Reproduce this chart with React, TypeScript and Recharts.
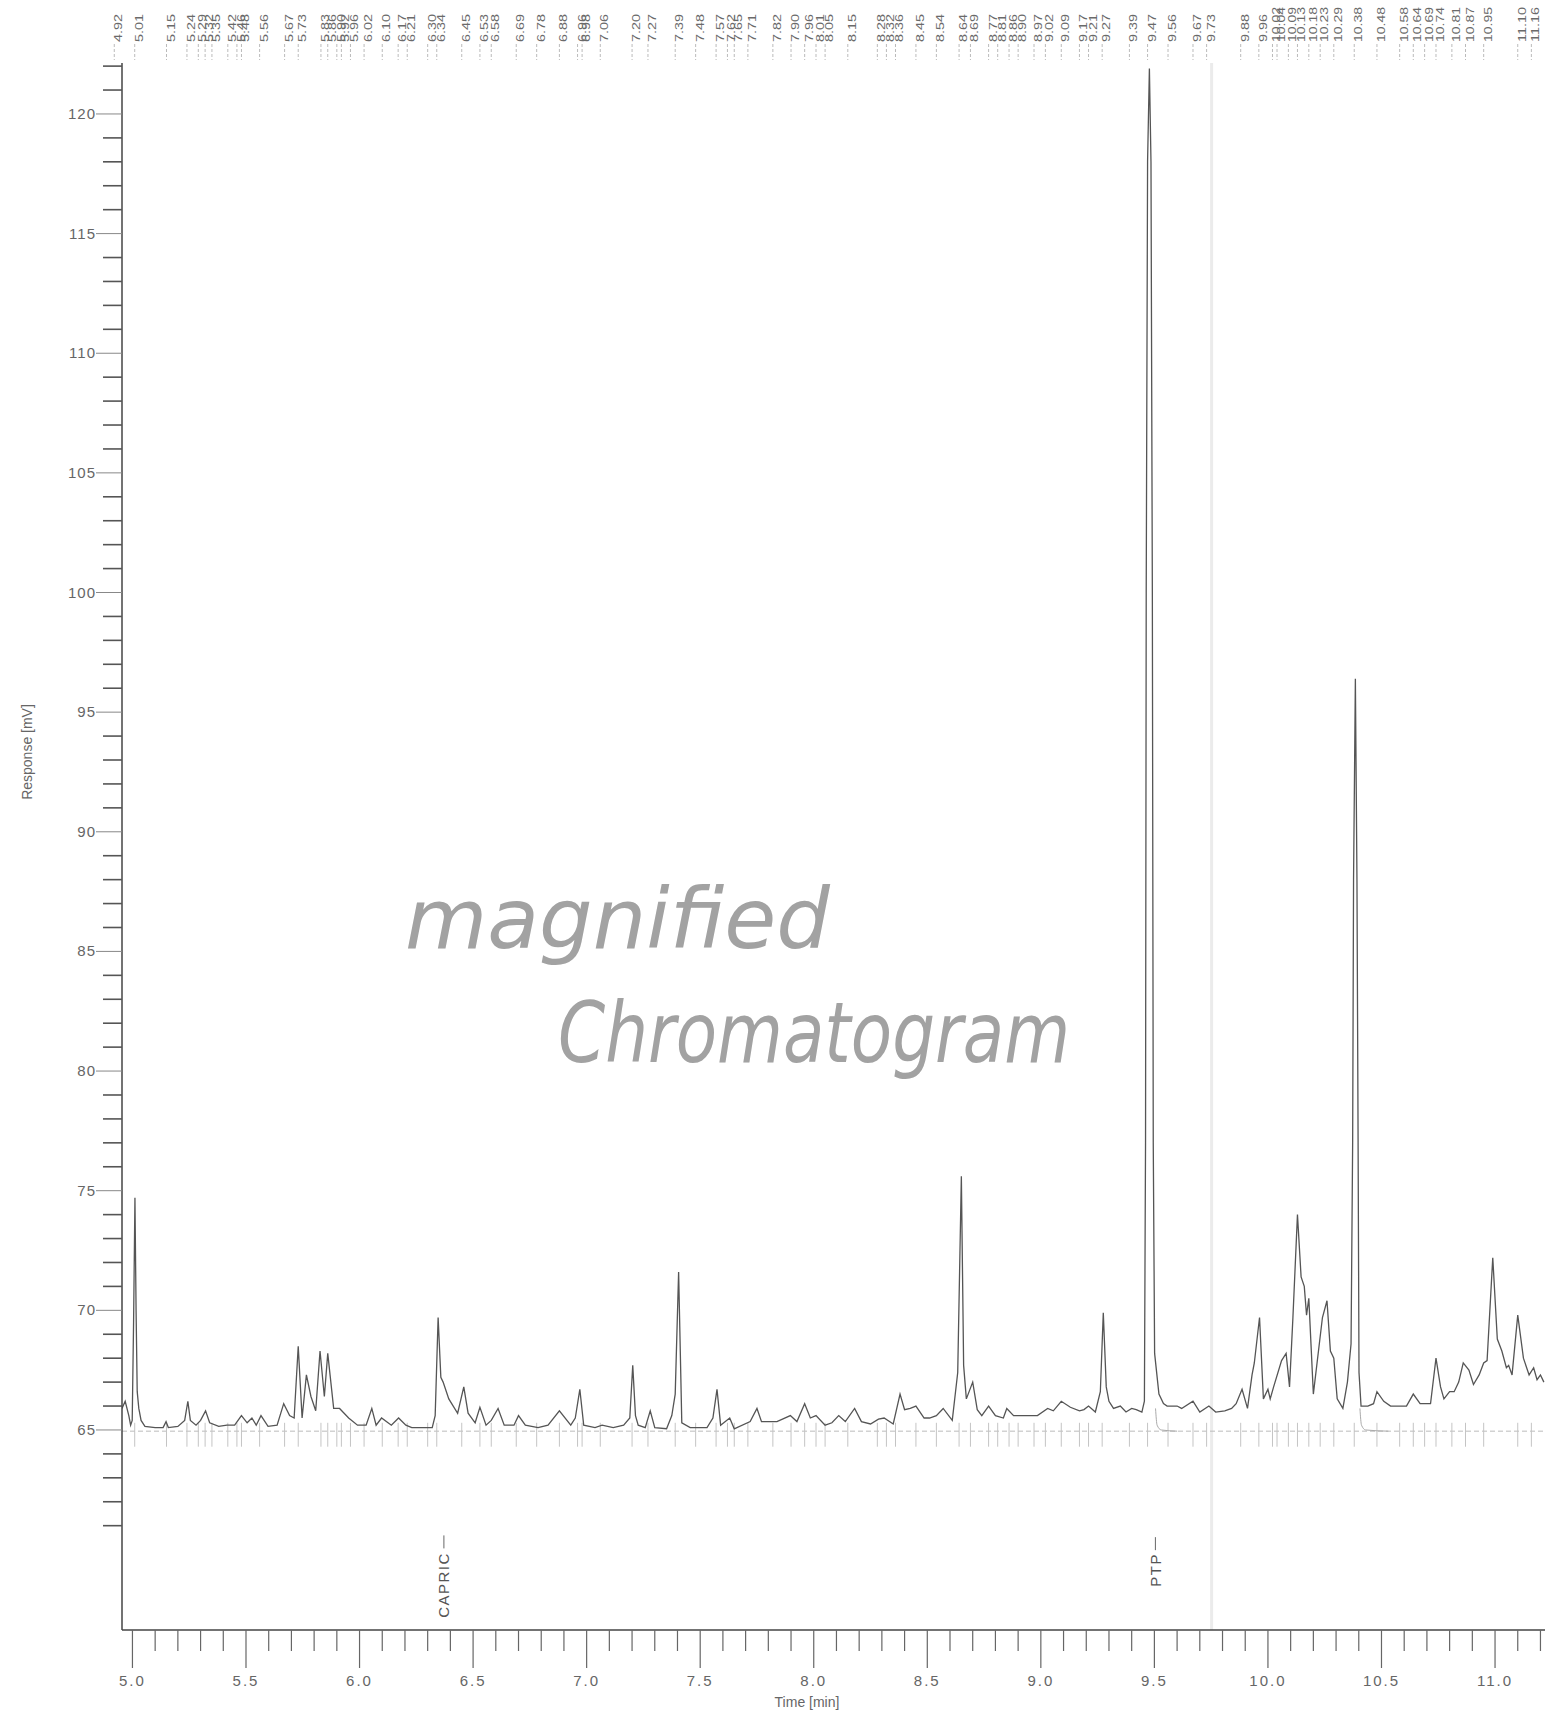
import React from 'react';
import { LineChart, Line, XAxis, YAxis, ReferenceLine, ReferenceDot } from 'recharts';

// detector trace (time in min, response in mV)
const traceTime = [
  4.954, 4.968, 4.984, 4.992, 4.999, 5.005, 5.011, 5.016, 5.021, 5.028, 5.038, 5.055, 5.1, 5.135, 5.148, 5.158,
  5.2, 5.23, 5.244, 5.255, 5.28, 5.3, 5.322, 5.34, 5.38, 5.416, 5.45, 5.48, 5.505, 5.526, 5.545, 5.566,
  5.597, 5.637, 5.666, 5.692, 5.712, 5.73, 5.747, 5.766, 5.786, 5.807, 5.826, 5.845, 5.86, 5.886, 5.912, 5.952,
  5.991, 6.029, 6.054, 6.073, 6.097, 6.14, 6.172, 6.204, 6.23, 6.32, 6.333, 6.346, 6.358, 6.368, 6.393, 6.432,
  6.459, 6.478, 6.509, 6.53, 6.557, 6.58, 6.61, 6.637, 6.68, 6.7, 6.73, 6.786, 6.83, 6.88, 6.93, 6.95,
  6.97, 6.987, 7.037, 7.068, 7.117, 7.163, 7.19, 7.203, 7.215, 7.227, 7.258, 7.28, 7.3, 7.352, 7.375, 7.39,
  7.405, 7.419, 7.456, 7.53, 7.556, 7.574, 7.59, 7.63, 7.65, 7.72, 7.75, 7.77, 7.838, 7.897, 7.926, 7.96,
  7.985, 8.01, 8.05, 8.08, 8.11, 8.139, 8.18, 8.21, 8.25, 8.285, 8.31, 8.35, 8.38, 8.4, 8.425, 8.45,
  8.486, 8.51, 8.54, 8.57, 8.61, 8.634, 8.65, 8.66, 8.672, 8.7, 8.72, 8.74, 8.77, 8.8, 8.835, 8.85,
  8.88, 8.94, 8.985, 9.03, 9.055, 9.09, 9.13, 9.17, 9.19, 9.21, 9.24, 9.262, 9.275, 9.288, 9.3, 9.32,
  9.35, 9.375, 9.4, 9.42, 9.445, 9.456, 9.461, 9.464, 9.47, 9.478, 9.485, 9.491, 9.495, 9.501, 9.52, 9.54,
  9.556, 9.6, 9.62, 9.67, 9.7, 9.74, 9.77, 9.81, 9.84, 9.86, 9.886, 9.91, 9.93, 9.94, 9.963, 9.98,
  10.0, 10.01, 10.025, 10.06, 10.08, 10.095, 10.11, 10.13, 10.146, 10.16, 10.17, 10.18, 10.2, 10.24, 10.26, 10.275,
  10.29, 10.305, 10.33, 10.35, 10.366, 10.373, 10.377, 10.385, 10.392, 10.397, 10.401, 10.41, 10.44, 10.465, 10.48, 10.51,
  10.54, 10.58, 10.61, 10.64, 10.67, 10.716, 10.74, 10.76, 10.775, 10.8, 10.82, 10.84, 10.86, 10.885, 10.905, 10.93,
  10.95, 10.965, 10.99, 11.01, 11.03, 11.05, 11.06, 11.075, 11.1, 11.125, 11.15, 11.17, 11.185, 11.2, 11.215,
];
const traceResponse = [
  65.9, 66.2, 65.6, 65.2, 65.4, 69.5, 74.7, 70.0, 66.6, 65.9, 65.4, 65.15, 65.1, 65.1, 65.35, 65.1,
  65.15, 65.4, 66.2, 65.4, 65.2, 65.4, 65.8, 65.3, 65.15, 65.2, 65.2, 65.6, 65.3, 65.5, 65.2, 65.6,
  65.15, 65.2, 66.1, 65.6, 65.5, 68.5, 65.5, 67.3, 66.4, 65.8, 68.3, 66.4, 68.2, 65.9, 65.9, 65.5,
  65.2, 65.2, 65.9, 65.2, 65.5, 65.2, 65.5, 65.2, 65.1, 65.1, 65.6, 69.7, 67.2, 67.0, 66.3, 65.7,
  66.8, 65.7, 65.3, 65.95, 65.2, 65.4, 65.9, 65.2, 65.2, 65.6, 65.2, 65.1, 65.2, 65.8, 65.2, 65.5,
  66.7, 65.2, 65.1, 65.2, 65.1, 65.2, 65.5, 67.7, 65.6, 65.2, 65.1, 65.8, 65.1, 65.05, 65.6, 66.5,
  71.6, 65.3, 65.1, 65.1, 65.5, 66.7, 65.2, 65.5, 65.05, 65.35, 65.9, 65.35, 65.35, 65.6, 65.35, 66.1,
  65.5, 65.6, 65.2, 65.3, 65.6, 65.35, 65.9, 65.35, 65.25, 65.45, 65.5, 65.25, 66.5, 65.85, 65.9, 66.0,
  65.5, 65.5, 65.6, 65.9, 65.4, 67.4, 75.6, 67.7, 66.3, 67.0, 65.85, 65.6, 66.0, 65.6, 65.5, 65.9,
  65.6, 65.6, 65.6, 65.9, 65.8, 66.2, 65.95, 65.8, 65.85, 66.0, 65.75, 66.6, 69.9, 66.8, 66.2, 65.9,
  66.0, 65.75, 65.9, 65.85, 65.75, 66.2, 77.0, 100.0, 118.0, 121.9, 118.0, 100.0, 77.0, 68.2, 66.5, 66.1,
  66.0, 66.0, 65.9, 66.2, 65.75, 66.0, 65.75, 65.8, 65.9, 66.1, 66.7, 65.9, 67.3, 67.8, 69.7, 66.3,
  66.7, 66.3, 66.8, 67.9, 68.2, 66.8, 69.7, 74.0, 71.4, 71.0, 69.8, 70.5, 66.5, 69.7, 70.4, 68.3,
  68.0, 66.3, 65.9, 67.0, 68.6, 77.0, 88.0, 96.4, 88.0, 77.0, 67.4, 66.0, 66.0, 66.1, 66.6, 66.2,
  66.0, 66.0, 66.0, 66.5, 66.1, 66.1, 68.0, 66.8, 66.3, 66.6, 66.6, 67.0, 67.8, 67.5, 66.9, 67.3,
  67.8, 67.9, 72.2, 68.8, 68.3, 67.6, 67.7, 67.3, 69.8, 68.0, 67.3, 67.6, 67.1, 67.3, 67.0,
];

// integrator's drop-to-baseline tails after the two big peaks
const tailTime = [9.505, 9.512, 9.53, 9.6, null, 10.405, 10.412, 10.43, 10.53];
const tailResponse = [65.9, 65.2, 65.0, 64.95, null, 65.9, 65.2, 65.0, 64.95];

// retention times printed along the top
const peakLabels = [
  '4.92', '5.01', '5.15', '5.24', '5.29', '5.32', '5.35', '5.42', '5.46', '5.48', '5.56', '5.67', '5.73', '5.83',
  '5.86', '5.90', '5.92', '5.96', '6.02', '6.10', '6.17', '6.21', '6.30', '6.34', '6.45', '6.53', '6.58', '6.69',
  '6.78', '6.88', '6.96', '6.98', '7.06', '7.20', '7.27', '7.39', '7.48', '7.57', '7.62', '7.65', '7.71', '7.82',
  '7.90', '7.96', '8.01', '8.05', '8.15', '8.28', '8.32', '8.36', '8.45', '8.54', '8.64', '8.69', '8.77', '8.81',
  '8.86', '8.90', '8.97', '9.02', '9.09', '9.17', '9.21', '9.27', '9.39', '9.47', '9.56', '9.67', '9.73', '9.88',
  '9.96', '10.02', '10.04', '10.09', '10.13', '10.18', '10.23', '10.29', '10.38', '10.48', '10.58', '10.64',
  '10.69', '10.74', '10.81', '10.87', '10.95', '11.10', '11.16',
];
const peakTimes = peakLabels.map(Number);

const timeTicks = [
  5.0, 5.1, 5.2, 5.3, 5.4, 5.5, 5.6, 5.7, 5.8, 5.9, 6.0, 6.1, 6.2, 6.3, 6.4, 6.5, 6.6, 6.7, 6.8, 6.9,
  7.0, 7.1, 7.2, 7.3, 7.4, 7.5, 7.6, 7.7, 7.8, 7.9, 8.0, 8.1, 8.2, 8.3, 8.4, 8.5, 8.6, 8.7, 8.8, 8.9,
  9.0, 9.1, 9.2, 9.3, 9.4, 9.5, 9.6, 9.7, 9.8, 9.9, 10.0, 10.1, 10.2, 10.3, 10.4, 10.5, 10.6, 10.7, 10.8,
  10.9, 11.0, 11.1, 11.2,
];
const responseTicks = [
  61, 62, 63, 64, 65, 66, 67, 68, 69, 70, 71, 72, 73, 74, 75, 76, 77, 78, 79, 80, 81, 82, 83, 84, 85,
  86, 87, 88, 89, 90, 91, 92, 93, 94, 95, 96, 97, 98, 99, 100, 101, 102, 103, 104, 105, 106, 107, 108,
  109, 110, 111, 112, 113, 114, 115, 116, 117, 118, 119, 120, 121, 122,
];

const compounds = [
  { name: 'CAPRIC', time: 6.345, at: 58.52 },
  { name: 'PTP', time: 9.478, at: 59.15 },
];

const data = traceTime.map((t, i) => ({ t, r: traceResponse[i] }));
const tailData = tailTime.map((t, i) => ({ t, b: tailResponse[i] }));

const ink = '#555';
const font = '"Liberation Sans", Arial, sans-serif';
const AXIS_Y = 1630;

const TimeTick = (props: any) => {
  const { x, payload } = props;
  const v = payload.value;
  const major = Math.abs(v * 2 - Math.round(v * 2)) < 0.001;
  return (
    <g>
      <line x1={x} x2={x} y1={AXIS_Y} y2={AXIS_Y + (major ? 38 : 21)} stroke="#666" strokeWidth={1.2} />
      {major && (
        <text x={x} y={AXIS_Y + 56} textAnchor="middle" fontSize={15} letterSpacing={2} fill="#666" fontFamily={font}>
          {v.toFixed(1)}
        </text>
      )}
    </g>
  );
};

const ResponseTick = (props: any) => {
  const { x, y, payload } = props;
  const v = payload.value;
  const major = v % 5 === 0;
  return (
    <g>
      {major ? (
        <line x1={x - 26} x2={x} y1={y} y2={y} stroke="#888" strokeWidth={1} />
      ) : (
        <line x1={x - 19} x2={x} y1={y} y2={y} stroke="#555" strokeWidth={1.6} />
      )}
      {major && (
        <text x={x - 26} y={y + 5} textAnchor="end" fontSize={15} letterSpacing={1} fill="#666" fontFamily={font}>
          {v}
        </text>
      )}
    </g>
  );
};

const PeakTick = (props: any) => {
  const { x, payload, index } = props;
  const label = peakLabels[index] ?? String(payload.value);
  const tx = x + 4;
  return (
    <g>
      <line x1={x} x2={x} y1={44} y2={60} stroke="#bbb" strokeWidth={1} strokeDasharray="3 2" />
      <text
        x={tx}
        y={42}
        transform={`rotate(-90 ${tx} 42)`}
        fontSize={10.5}
        fill="#6a6a6a"
        fontFamily={font}
        textLength={label.length * 7}
        lengthAdjust="spacingAndGlyphs"
        dominantBaseline="central"
      >
        {label}
      </text>
    </g>
  );
};

const CompoundMark = (name: string) => (p: any) => {
  const cx = p.cx + 6;
  const cy = p.cy;
  const half = name.length * 5.6;
  return (
    <g>
      <line x1={cx} x2={cx} y1={cy - half - 16} y2={cy - half - 3} stroke="#666" strokeWidth={1} />
      <text
        x={cx}
        y={cy}
        transform={`rotate(-90 ${cx} ${cy})`}
        textAnchor="middle"
        dominantBaseline="central"
        fontSize={15}
        letterSpacing={1.5}
        fill="#555"
        fontFamily={font}
      >
        {name}
      </text>
    </g>
  );
};

export default function App() {
  return (
    <div style={{ position: 'absolute', left: 0, top: 0, width: 1545, height: 1714, background: '#fff' }}>
      <LineChart width={1545} height={1714} data={data} margin={{ top: 0, right: 0, bottom: 0, left: 0 }}>
        <XAxis
          dataKey="t"
          type="number"
          domain={[4.954, 11.22]}
          allowDataOverflow
          ticks={timeTicks}
          interval={0}
          height={84}
          tickSize={0}
          tickMargin={0}
          tickLine={false}
          tick={<TimeTick />}
          axisLine={{ stroke: '#444', strokeWidth: 1.5 }}
        />
        <XAxis
          xAxisId="top"
          orientation="top"
          dataKey="t"
          type="number"
          domain={[4.954, 11.22]}
          allowDataOverflow
          ticks={peakTimes}
          interval={0}
          height={63}
          tickSize={0}
          tickMargin={0}
          tickLine={false}
          axisLine={false}
          tick={<PeakTick />}
        />
        <YAxis
          type="number"
          domain={[56.64, 122.13]}
          allowDataOverflow
          ticks={responseTicks}
          interval={0}
          width={122}
          tickSize={0}
          tickMargin={0}
          tickLine={false}
          tick={<ResponseTick />}
          axisLine={{ stroke: '#444', strokeWidth: 1.5 }}
        />
        <ReferenceLine x={9.752} stroke="#ebebeb" strokeWidth={3} />
        <ReferenceLine y={64.95} stroke="#bbb" strokeDasharray="5 3" />
        {peakTimes.map((t, i) => (
          <ReferenceLine key={i} segment={[{ x: t, y: 65.3 }, { x: t, y: 64.3 }]} stroke="#c4c4c4" />
        ))}
        {compounds.map((c) => (
          <ReferenceDot key={c.name} x={c.time} y={c.at} r={0} shape={CompoundMark(c.name)} />
        ))}
        <Line
          data={tailData}
          type="monotone"
          dataKey="b"
          stroke="#aaa"
          strokeWidth={1}
          dot={false}
          connectNulls={false}
          isAnimationActive={false}
        />
        <Line
          type="linear"
          dataKey="r"
          stroke={ink}
          strokeWidth={1.3}
          dot={false}
          isAnimationActive={false}
        />
      </LineChart>
      <svg
        width={1545}
        height={1714}
        style={{ position: 'absolute', left: 0, top: 0, pointerEvents: 'none' }}
      >
        <text
          x={27}
          y={752}
          transform="rotate(-90 27 752)"
          textAnchor="middle"
          dominantBaseline="central"
          fontSize={14}
          fill="#666"
          fontFamily={font}
        >
          Response [mV]
        </text>
        <text x={807} y={1707} textAnchor="middle" fontSize={14} fill="#666" fontFamily={font}>
          Time [min]
        </text>
        <text
          x={405}
          y={948}
          fontSize={84}
          fontStyle="italic"
          fill="#a2a2a2"
          fontFamily='"DejaVu Sans", sans-serif'
          textLength={425}
          lengthAdjust="spacingAndGlyphs"
        >
          magnified
        </text>
        <text
          x={558}
          y={1062}
          fontSize={84}
          fontStyle="italic"
          fill="#a2a2a2"
          fontFamily='"DejaVu Sans", sans-serif'
          textLength={512}
          lengthAdjust="spacingAndGlyphs"
        >
          Chromatogram
        </text>
      </svg>
    </div>
  );
}
